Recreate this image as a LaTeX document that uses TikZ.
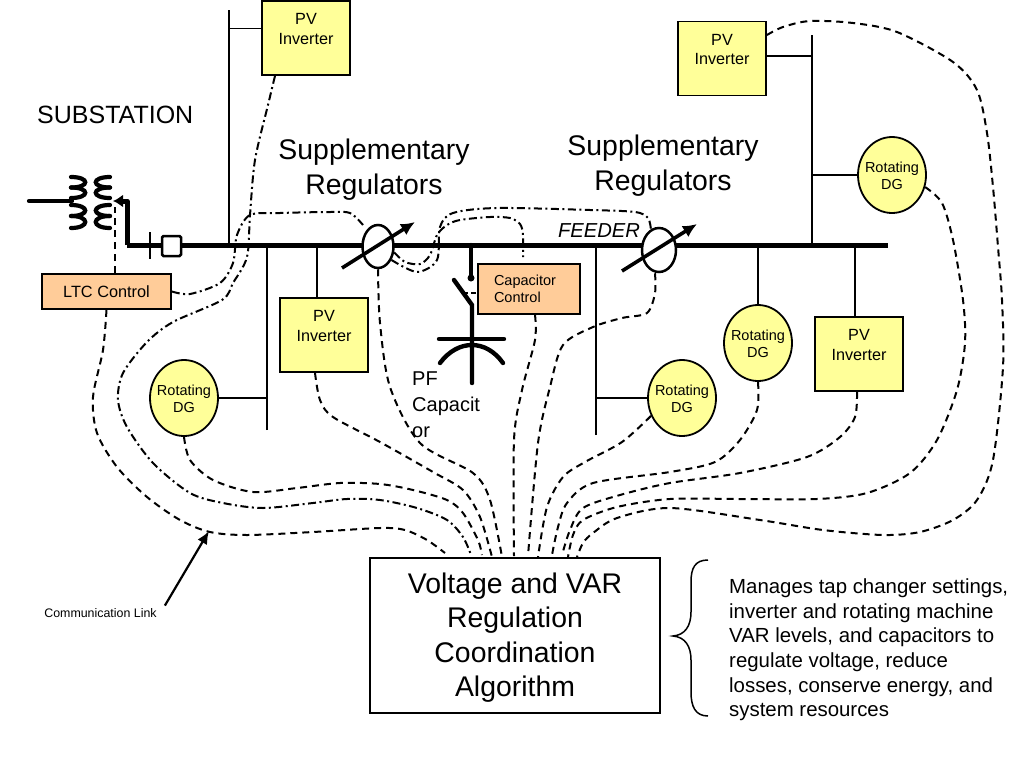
\documentclass[tikz,border=0pt]{standalone}
\usepackage{fontspec}
\setmainfont{Liberation Sans}
\usetikzlibrary{arrows.meta,shapes.geometric,calc}

\definecolor{pvfill}{HTML}{FFFF99}
\definecolor{ctrlfill}{HTML}{FFCC99}

\tikzset{
    busline/.style={line width=5pt},
    branch/.style={line width=1.8pt},
    capline/.style={line width=4.4pt, line cap=round},
    coil/.style={line width=4.2pt, line cap=round},
    commlink/.style={line width=2pt, dash pattern=on 7pt off 5pt},
    commctrl/.style={line width=2pt, dash pattern=on 8pt off 3.5pt on 2pt off 3.5pt},
    pvbox/.style={draw, line width=1.8pt, fill=pvfill, rectangle, minimum width=88pt, minimum height=74pt,
        align=center, text depth=18pt, font=\fontsize{16.2}{19.5}\selectfont},
    dgtext/.style={align=center, yshift=-1pt, font=\fontsize{14.5}{17}\selectfont},
    dgnode/.style={draw, line width=1.8pt, fill=pvfill, ellipse, inner sep=0pt, minimum width=68pt, minimum height=76pt,
        label={[dgtext]center:{Rotating\\DG}}},
    ctrlbox/.style={draw, line width=1.8pt, fill=ctrlfill, rectangle},
    regnode/.style={draw, line width=2.5pt, fill=white, ellipse, inner sep=0pt},
    regarrow/.style={line width=3.6pt, -{Latex[length=14pt,width=13pt]}},
    biglabel/.style={align=center, font=\fontsize{28.4}{34.4}\selectfont}
}

\begin{document}
\begin{tikzpicture}[x=1pt, y=-1pt]
    \useasboundingbox (0,0) rectangle (1028,766);

    \coordinate (line) at (29,201);
    \coordinate (prim) at (72,201);
    \coordinate (tap) at (127,201);
    \coordinate (tapend) at (113,201);
    \coordinate (busw) at (127,245);
    \coordinate (buse) at (888,245);

    \node (pvtop) [pvbox] at (306,38) {PV\\Inverter};
    \node (pvmid) [pvbox] at (324,335) {PV\\Inverter};
    \node (pvfar) [pvbox] at (722,58.5) {PV\\Inverter};
    \node (pvend) [pvbox] at (859,354) {PV\\Inverter};

    \node (dgleft) [dgnode] at (184,398) {};
    \node (dgcent) [dgnode] at (682,398) {};
    \node (dgmid) [dgnode] at (758,343) {};
    \node (dgtop) [dgnode] at (892,175) {};

    \coordinate (feedtop) at (229,10);
    \coordinate (feedfar) at (812,35);
    \coordinate (feedleft) at (267,430);
    \coordinate (feedcent) at (596,435);

    \draw [branch] (feedtop) -- (feedtop |- busw);
    \draw [branch] (feedtop |- pvtop.168) -- (pvtop.168);
    \draw [branch] (feedfar) -- (feedfar |- busw);
    \draw [branch] (pvfar.east |- 0,56) -- (feedfar |- 0,56);
    \draw [branch] (dgtop.west) -- (feedfar |- dgtop.west);
    \draw [branch] (feedleft) -- (feedleft |- busw);
    \draw [branch] (dgleft.east) -- (feedleft |- dgleft.east);
    \draw [branch] (feedcent) -- (feedcent |- busw);
    \draw [branch] (feedcent |- dgcent.west) -- (dgcent.west);
    \draw [branch] (pvmid.north -| 317,0) -- (317,245);
    \draw [branch] (dgmid.north) -- (dgmid.north |- busw);
    \draw [branch] (pvend.north -| 855,0) -- (855,245);

    \draw [busline] (busw) -- (buse);
    \draw [busline, line join=round, -{Latex[length=10pt,width=13pt]}] (busw) -- (tap) -- (tapend);
    \draw [coil] (line) -- (prim);
    \foreach \a/\b in {177/187.5, 187.5/198, 205/216, 216/228} {
        \draw [coil] (71,\a) .. controls (90,\a) and (90,\b) .. (71,\b);
        \draw [coil] (110,\a) .. controls (91,\a) and (91,\b) .. (110,\b);
    }

    \draw [line width=2pt] (150,232) -- (150,259);
    \node (breaker) [draw, line width=2.5pt, fill=white, rounded corners=1.5pt, minimum width=19pt, minimum height=20pt, inner sep=0pt] at (171.5,246) {};

    \node (reg1) [regnode, minimum width=31pt, minimum height=43pt] at (378,246.5) {};
    \node (reg2) [regnode, minimum width=34pt, minimum height=44pt] at (659,250) {};
    \coordinate (reg1a) at (342,268);
    \coordinate (reg1b) at (415,222);
    \coordinate (reg2a) at (622,271);
    \coordinate (reg2b) at (697,224);
    \draw [regarrow] (reg1a) -- (reg1b);
    \draw [regarrow] (reg2a) -- (reg2b);

    \node (ltc) [ctrlbox, minimum width=129pt, minimum height=35pt, font=\fontsize{16.3}{19.5}\selectfont] at (106.5,291.5) {LTC Control};
    \node (capctrl) [ctrlbox, align=left, text width=70pt, inner xsep=16pt, minimum height=50pt, font=\fontsize{14.5}{17}\selectfont] at (529,289) {Capacitor\\Control};

    \coordinate (captop) at (471,245);
    \coordinate (capdot) at (471,278);
    \coordinate (blade) at (454,280);
    \coordinate (hinge) at (472,305);
    \coordinate (capend) at (472,383);
    \draw [capline] (captop) -- (capdot);
    \fill (capdot) circle (3.5pt);
    \draw [capline] (blade) -- (hinge) -- (capend);
    \draw [capline] (439,339) -- (504,339);
    \draw [capline] (440,363) .. controls (458,339) and (486,339) .. (503,363);
    \draw [line width=2pt, dash pattern=on 5pt off 3pt] (463,293) -- (capctrl.west |- 0,293);

    \node (algo) [draw, line width=1.8pt, fill=white, rectangle, minimum width=290pt, minimum height=155pt, biglabel, text depth=2pt] at (515,635.5)
        {Voltage and VAR\\Regulation\\Coordination\\Algorithm};

    \draw [commlink] (ltc.north -| 115,0) -- (115,207);
    \draw [commlink] plot [smooth] coordinates {(ltc.south) (103,350) (93,397) (97,433) (117,467) (147,497) (180,520) (210,532) (247,535) (313,532) (380,528) (405,530) (427,540) (445,553)};
    \draw [commctrl] plot [smooth] coordinates {(pvtop.south -| 275,0) (268,105) (255,160) (250,215) (247,257) (233,283) (222,300) (173,322) (147,342) (123,373) (118,400) (127,427) (153,463) (190,493) (223,503) (263,508) (313,503) (347,499) (380,500) (417,508) (447,520) (463,537) (471,555)};
    \draw [commctrl] plot [smooth] coordinates {(ltc.east) (190,294) (220,283) (233,263) (237,235) (250,215) (280,213) (330,212) (350,213) (363,225)};
    \draw [commlink] plot [smooth] coordinates {(dgleft.south) (190,460) (213,480) (253,492) (297,488) (340,483) (380,484) (413,490) (447,500) (463,513) (478,540) (482,555)};
    \draw [commlink] plot [smooth] coordinates {(pvmid.south -| 315,0) (320,400) (333,417) (380,442) (433,472) (463,490) (480,517) (492,557)};
    \draw [commlink] plot [smooth] coordinates {(reg1.south) (380,323) (390,387) (420,443) (473,473) (490,500) (502,557)};
    \draw [commlink] plot [smooth] coordinates {(capctrl.south -| 535,0) (535,340) (522,390) (514,440) (514,556)};
    \draw [commlink] plot [smooth] coordinates {(reg2.south -| 655,0) (655,293) (647,313) (622,318) (593,327) (563,345) (550,387) (538,443) (528,556)};
    \draw [commlink] plot [smooth] coordinates {(dgcent.210) (622,442) (585,462) (563,477) (547,507) (538,557)};
    \draw [commlink] plot [smooth] coordinates {(dgmid.south) (757,410) (740,440) (715,462) (670,472) (593,483) (567,503) (558,527) (552,555)};
    \draw [commlink] plot [smooth] coordinates {(pvend.south -| 857,0) (855,417) (840,437) (807,457) (740,473) (670,483) (620,495) (583,508) (570,530) (562,555)};
    \draw [commlink] plot [smooth] coordinates {(dgtop.-20) (942,203) (953,240) (963,300) (965,343) (957,390) (937,440) (910,473) (867,493) (817,499) (740,499) (670,499) (617,507) (583,520) (573,535) (568,557)};
    \draw [commlink] plot [smooth] coordinates {(pvfar.east |- 0,35) (783,27) (810,21) (853,23) (897,32) (953,62) (977,90) (987,133) (993,187) (998,247) (1002,300) (1003,367) (993,460) (977,500) (953,520) (920,532) (883,535) (823,530) (760,520) (670,508) (617,518) (593,533) (583,543) (577,557)};
    \draw [commctrl] plot [smooth] coordinates {(reg1.-20) (405,262) (420,264) (430,255) (437,235) (447,225) (460,220) (490,217) (510,218) (520,224) (523,235) ([xshift=-6pt,yshift=6pt]capctrl.north)};
    \draw [commctrl] plot [smooth] coordinates {(reg1.-45) (417,272) (437,260) (440,227) (453,213) (497,208) (590,210) (635,212) (648,218) (651,230)};

    \node (substation) [anchor=west, inner sep=0pt, font=\fontsize{25}{30}\selectfont] at (37,115) {SUBSTATION};
    \node (suplabela) [biglabel] at (374,169.5) {Supplementary\\Regulators};
    \node (suplabelb) [biglabel] at (663,165.5) {Supplementary\\Regulators};
    \node (feeder) [inner sep=0pt, font=\itshape\fontsize{20.2}{24}\selectfont] at (599,231) {FEEDER};
    \node (pflabel) [anchor=west, align=left, inner sep=0pt, font=\fontsize{20}{26}\selectfont] at (412,405) {PF\\Capacit\\or};

    \node (commlabel) [inner sep=8pt, font=\fontsize{12.4}{15}\selectfont] at (100.5,613.5) {Communication Link};
    \coordinate (commtip) at (209,531);
    \draw [line width=2.2pt, -{Latex[length=13pt,width=11pt]}] (commlabel.7) -- (commtip);

    \draw [line width=1.5pt] (708,560) .. controls (695,560) and (691,568) .. (691,582) -- (691,612) .. controls (691,626) and (685,635) .. (673,636)
        .. controls (685,637) and (691,646) .. (691,660) -- (691,692) .. controls (691,706) and (695,716) .. (708,716);
    \node (notes) [anchor=west, align=left, inner sep=0pt, font=\fontsize{20.4}{24.6}\selectfont] at (729,650)
        {Manages tap changer settings,\\inverter and rotating machine\\VAR levels, and capacitors to\\regulate voltage, reduce\\losses, conserve energy, and\\system resources};
\end{tikzpicture}
\end{document}
